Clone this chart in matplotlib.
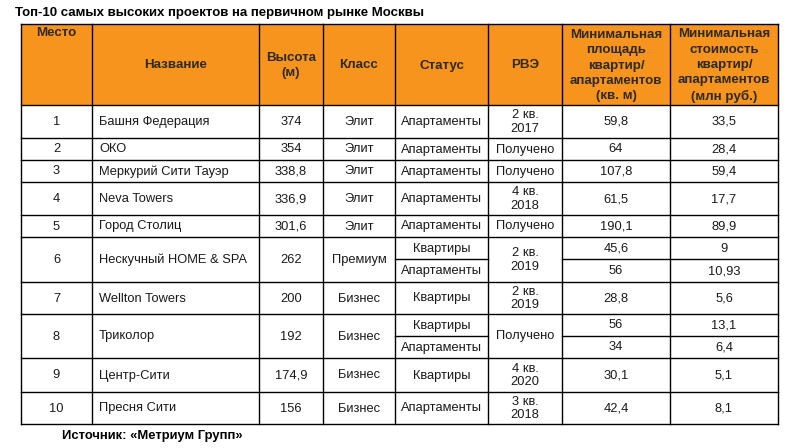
import matplotlib
matplotlib.use("Agg")
import matplotlib.pyplot as plt
from matplotlib.patches import Rectangle

plt.rcParams['font.family'] = ['Liberation Sans', 'DejaVu Sans']

title = "Топ-10 самых высоких проектов на первичном рынке Москвы"
source = "Источник: «Метриум Групп»"

headers = ["Место", "Название", "Высота\n(м)", "Класс", "Статус", "РВЭ",
           "Минимальная\nплощадь\nквартир/\nапартаментов\n(кв. м)",
           "Минимальная\nстоимость\nквартир/\nапартаментов\n(млн руб.)"]

places = ["1", "2", "3", "4", "5", "6", "7", "8", "9", "10"]
names = ["Башня Федерация", "ОКО", "Меркурий Сити Тауэр", "Neva Towers", "Город Столиц",
         "Нескучный HOME & SPA", "Wellton Towers", "Триколор", "Центр-Сити", "Пресня Сити"]
heights = ["374", "354", "338,8", "336,9", "301,6", "262", "200", "192", "174,9", "156"]
classes = ["Элит", "Элит", "Элит", "Элит", "Элит", "Премиум", "Бизнес", "Бизнес", "Бизнес", "Бизнес"]
statuses = [["Апартаменты"], ["Апартаменты"], ["Апартаменты"], ["Апартаменты"], ["Апартаменты"],
            ["Квартиры", "Апартаменты"], ["Квартиры"], ["Квартиры", "Апартаменты"],
            ["Квартиры"], ["Апартаменты"]]
rve = ["2 кв.\n2017", "Получено", "Получено", "4 кв.\n2018", "Получено",
       "2 кв.\n2019", "2 кв.\n2019", "Получено", "4 кв.\n2020", "3 кв.\n2018"]
min_area = [["59,8"], ["64"], ["107,8"], ["61,5"], ["190,1"], ["45,6", "56"], ["28,8"],
            ["56", "34"], ["30,1"], ["42,4"]]
min_price = [["33,5"], ["28,4"], ["59,4"], ["17,7"], ["89,9"], ["9", "10,93"], ["5,6"],
             ["13,1", "6,4"], ["5,1"], ["8,1"]]

# layout (pixels)
col_x = [21, 92, 259, 323, 395, 488, 562, 670, 778]
row_y = [24, 105, 138, 160, 182, 215, 237, 282, 314, 358, 392, 424]
orange = "#F7941E"
txt = "#1a1a1a"
hdr = "#2e2a26"
fs = 9.3
hfs = 9.6

fig = plt.figure(figsize=(8.04, 4.48), dpi=100)
ax = fig.add_axes([0, 0, 1, 1])
ax.set_xlim(0, 804)
ax.set_ylim(448, 0)
ax.axis('off')

# header
ax.add_patch(Rectangle((col_x[0], row_y[0]), col_x[-1] - col_x[0], row_y[1] - row_y[0],
                       facecolor=orange, edgecolor='none'))
for i, h in enumerate(headers):
    cx = (col_x[i] + col_x[i + 1]) / 2
    if i == 0:
        ax.text(cx, row_y[0] + 3, h, ha='center', va='top', fontsize=hfs, fontweight='bold',
                color=hdr)
    else:
        ax.text(cx, (row_y[0] + row_y[1]) / 2 + 1, h, ha='center', va='center', fontsize=hfs,
                fontweight='bold', color=hdr, linespacing=1.36)

lw = 1.0
# grid
for x in col_x:
    ax.plot([x, x], [row_y[0], row_y[-1]], color='black', lw=lw)
for y in row_y:
    ax.plot([col_x[0], col_x[-1]], [y, y], color='black', lw=lw)

split_cols = [4, 6, 7]
for r in range(len(places)):
    y0, y1 = row_y[r + 1], row_y[r + 2]
    ym = (y0 + y1) / 2 + 0.5
    ax.text((col_x[0] + col_x[1]) / 2, ym, places[r], ha='center', va='center', fontsize=fs, color=txt)
    ax.text(col_x[1] + 7, ym, names[r], ha='left', va='center', fontsize=fs, color=txt)
    ax.text((col_x[2] + col_x[3]) / 2, ym, heights[r], ha='center', va='center', fontsize=fs, color=txt)
    ax.text((col_x[3] + col_x[4]) / 2, ym, classes[r], ha='center', va='center', fontsize=fs, color=txt)
    ax.text((col_x[5] + col_x[6]) / 2, ym, rve[r], ha='center', va='center', fontsize=fs, color=txt,
            linespacing=1.2)
    n = len(statuses[r])
    hsub = (y1 - y0) / n
    for k in range(n):
        yc = y0 + hsub * (k + 0.5) + 0.5
        for c, vals in zip(split_cols, [statuses[r], min_area[r], min_price[r]]):
            ax.text((col_x[c] + col_x[c + 1]) / 2, yc, vals[k], ha='center', va='center',
                    fontsize=fs, color=txt)
        if k > 0:
            ys = y0 + hsub * k
            ax.plot([col_x[4], col_x[5]], [ys, ys], color='black', lw=lw)
            ax.plot([col_x[6], col_x[8]], [ys, ys], color='black', lw=lw)

ax.text(15, 13, title, ha='left', va='center', fontsize=9.5, fontweight='bold', color='black')
ax.text(62, 436, source, ha='left', va='center', fontsize=9.4, fontweight='bold', color='black')

fig.savefig("out.png", dpi=100)
